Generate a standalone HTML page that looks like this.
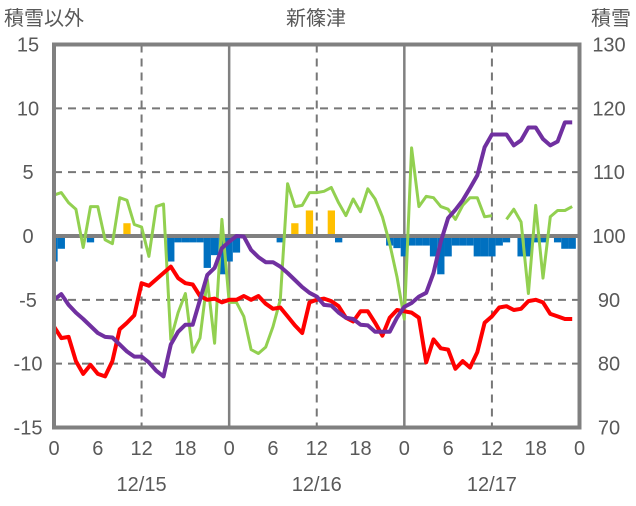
<!DOCTYPE html>
<html><head><meta charset="utf-8"><style>
body{margin:0;background:#fff;}
svg text{font-family:"Liberation Sans","Noto Sans CJK JP",sans-serif;fill:#595959;}
</style></head><body>
<svg id="c" width="636" height="501" xmlns="http://www.w3.org/2000/svg"></svg>
<script>
const hours = Array.from({length:72},(_,i)=>i);
const redSeries = [-7.1,-8.0,-7.9,-9.8,-10.8,-10.1,-10.8,-11.0,-9.8,-7.3,-6.8,-6.2,-3.7,-3.9,-3.4,-2.9,-2.4,-3.3,-3.7,-3.8,-4.7,-5.0,-4.9,-5.2,-5.0,-5.0,-4.7,-5.0,-4.7,-5.3,-5.7,-5.6,-6.3,-7.0,-7.6,-5.2,-5.0,-4.9,-5.1,-5.5,-6.4,-6.7,-5.9,-5.9,-6.8,-7.8,-6.4,-5.8,-5.9,-6.0,-6.4,-9.9,-8.1,-8.8,-8.9,-10.4,-9.8,-10.3,-9.1,-6.8,-6.3,-5.6,-5.5,-5.8,-5.7,-5.1,-5.0,-5.2,-6.1,-6.3,-6.5,-6.5];
const greenSeries = [3.2,3.4,2.6,2.1,-0.9,2.3,2.3,-0.3,-0.6,3.0,2.8,0.9,0.7,-1.6,2.3,2.5,-8.1,-6.0,-4.5,-9.1,-8.0,-3.4,-8.4,1.3,-5.2,-5.2,-6.3,-8.9,-9.2,-8.7,-7.1,-5.0,4.1,2.3,2.4,3.4,3.4,3.5,3.8,2.6,1.6,2.9,1.9,3.7,2.9,1.5,-0.6,-3.2,-6.5,6.9,2.3,3.1,3.0,2.3,2.1,1.3,2.4,3.0,3.0,1.5,1.6,null,1.3,2.1,1.1,-4.5,2.4,-3.3,1.5,2.0,2.0,2.3];
const snowDepth = [90.0,90.9,89.2,88.0,87.0,85.9,84.8,84.2,84.1,83.0,81.9,81.1,81.1,80.2,78.9,78.0,83.0,85.0,86.1,86.1,90.0,93.9,95.0,98.1,99.1,100.0,99.9,97.8,96.7,95.9,95.9,95.2,94.2,93.1,92.0,91.1,90.5,89.2,89.1,88.0,87.2,87.0,86.1,86.0,85.0,85.0,85.0,87.2,88.9,89.5,90.5,91.1,94.2,99.1,102.8,104.1,105.6,107.5,109.5,113.9,115.9,115.9,115.9,114.2,115.0,117.0,117.0,115.2,114.2,114.8,117.8,117.8];
const barValues = [-2,-1,0,0,0,-0.5,0,0,0,0,1,0,0,0,0,0,-2,-0.5,-0.5,-0.5,-0.5,-2.5,-1.5,-3,-2,-1.3,0,0,0,0,0,-0.5,0,1,0,2,0,0,2,-0.5,0,0,0,0,0,0,-0.75,-0.95,-1.6,-0.75,-0.75,-0.75,-1.6,-3,-1.6,-0.75,-0.75,-0.75,-1.6,-1.6,-1.6,-0.75,-0.5,0,-1.6,-1.6,-0.5,-0.5,0,-0.5,-1,-1];
const leftTicks = [15,10,5,0,-5,-10,-15];
const rightTicks = [130,120,110,100,90,80,70];
const hourLabels = [0,6,12,18,0,6,12,18,0,6,12,18,0];
const dateLabels = ["12/15","12/16","12/17"];

const NS="http://www.w3.org/2000/svg", svg=document.getElementById('c');
const X0=54,X1=579.5,Y0=44.5,Y1=427.5;
const xs=h=>X0+(X1-X0)*h/72;
const yl=v=>Y1-(v+15)/30*(Y1-Y0);
const yr=v=>Y1-(v-70)/60*(Y1-Y0);
function mk(tag,attrs,parent){const e=document.createElementNS(NS,tag);for(const k in attrs)e.setAttribute(k,attrs[k]);(parent||svg).appendChild(e);return e;}

// grid
[10,5,-5,-10].forEach(v=>{const g=mk('line',{x1:X0,x2:X1,y1:yl(v),y2:yl(v),stroke:'#777','stroke-width':2,'stroke-dasharray':'8,6'});

});
[12,36,60].forEach(h=>{const g=mk('line',{x1:xs(h),x2:xs(h),y1:Y0,y2:Y1,stroke:'#777','stroke-width':2,'stroke-dasharray':'8,6'});

});
[24,48].forEach(h=>{const g=mk('line',{x1:xs(h),x2:xs(h),y1:Y0,y2:Y1,stroke:'#808080','stroke-width':2.5});

});

// bars
const bw=(X1-X0)/72;
barValues.forEach((v,i)=>{if(!v)return;
 let x=xs(hours[i])-bw/2,w=bw; if(x<X0){w-=X0-x;x=X0;}
 const y=v>0?yl(v):yl(0), hgt=Math.abs(yl(v)-yl(0));
 const r=mk('rect',{x:x,y:y,width:w,height:hgt,fill:v>0?'#FFC000':'#0070C0'});
 
 });

// zero line
const z=mk('line',{x1:X0,x2:X1,y1:yl(0),y2:yl(0),stroke:'#808080','stroke-width':4});



function line(arr,fy,color,w,name){let d='',pen=false;
 arr.forEach((v,i)=>{if(v===null){pen=false;return;}d+=(pen?'L':'M')+xs(hours[i]).toFixed(1)+','+fy(v).toFixed(1);pen=true;});
 const p=mk('path',{d:d,fill:'none',stroke:color,'stroke-width':w,'stroke-linejoin':'round'});
 
 }
line(greenSeries,yl,'#92D050',3,'green-series');
line(redSeries,yl,'#FF0000',4,'red-series');
line(snowDepth,yr,'#7030A0',4,'snow-depth-series');

// frame
const f=mk('rect',{x:X0,y:Y0,width:X1-X0,height:Y1-Y0,fill:'none',stroke:'#808080','stroke-width':4});



function txt(s,x,y,anchor,size,name){const t=mk('text',{x:x,y:y,'text-anchor':anchor,'font-size':size});t.textContent=s;
 
 }
leftTicks.forEach(v=>txt(String(v),28,yl(v)+7,'middle',20,'left-tick-label'));
rightTicks.forEach(v=>txt(String(v),609,yr(v)+7,'middle',20,'right-tick-label'));
hourLabels.forEach((v,i)=>txt(String(v),xs(i*6),455,'middle',20,'hour-tick-label'));
dateLabels.forEach((s,i)=>txt(s,xs(12+24*i),491,'middle',20,'date-label'));
txt('積雪以外',4,25,'start',20,'left-axis-title');
txt('積雪',631,25,'end',20,'right-axis-title');
txt('新篠津',316,25,'middle',20,'chart-title');
</script>
</body></html>
